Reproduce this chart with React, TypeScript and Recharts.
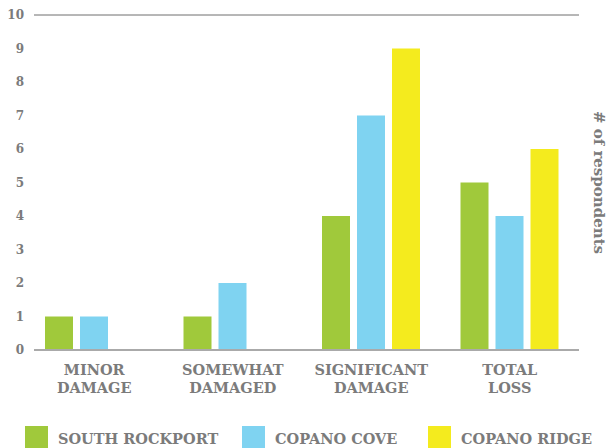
import { Bar, BarChart, CartesianGrid, XAxis, YAxis } from "recharts";

const categories = ["MINOR DAMAGE", "SOMEWHAT DAMAGED", "SIGNIFICANT DAMAGE", "TOTAL LOSS"];
const southRockport = [1, 1, 4, 5];
const copanoCove = [1, 2, 7, 4];
const copanoRidge = [0, 0, 9, 6];
const yTicks = [0, 1, 2, 3, 4, 5, 6, 7, 8, 9, 10];

const SERIES = [
  { key: "southRockport", name: "SOUTH ROCKPORT", color: "#a0c93b", width: 217 },
  { key: "copanoCove", name: "COPANO COVE", color: "#7fd3f1", width: 186 },
  { key: "copanoRidge", name: "COPANO RIDGE", color: "#f4eb1e", width: 160 },
];

const data = categories.map((name, i) => ({
  name,
  southRockport: southRockport[i],
  copanoCove: copanoCove[i],
  copanoRidge: copanoRidge[i],
}));

const FONT = "'DejaVu Serif', serif";
const GREY = "#7b7b7b";

// two-line category label, split after the first word
function CategoryTick({ x, y, payload }: any) {
  const [first, ...rest] = String(payload.value).split(" ");
  return (
    <text
      x={x}
      y={y}
      textAnchor="middle"
      fill={GREY}
      fontFamily={FONT}
      fontWeight="bold"
      fontSize={14.5}
    >
      <tspan x={x} dy={17}>{first}</tspan>
      <tspan x={x} dy={18}>{rest.join(" ")}</tspan>
    </text>
  );
}

export default function App() {
  return (
    <div style={{ position: "absolute", left: 0, top: 0, width: 607, height: 448, overflow: "hidden" }}>
      <BarChart
        width={607}
        height={448}
        data={data}
        margin={{ top: 15, right: 0, bottom: 0, left: 0 }}
        barCategoryGap={20}
        barGap={7}
      >
        <CartesianGrid horizontal vertical={false} stroke="#6f6f6f" strokeWidth={1} />
        <XAxis
          dataKey="name"
          height={98}
          padding={{ left: -9, right: 0 }}
          tickLine={false}
          axisLine={{ stroke: "#aaa", strokeWidth: 2 }}
          tick={<CategoryTick />}
          interval={0}
        />
        <YAxis
          yAxisId="left"
          domain={[0, 10]}
          ticks={yTicks}
          width={34}
          axisLine={false}
          tickLine={false}
          tickSize={0}
          tickMargin={10}
          tick={{ fill: GREY, fontSize: 12, fontWeight: "bold", fontFamily: FONT }}
        />
        <YAxis
          yAxisId="right"
          orientation="right"
          domain={[0, 10]}
          width={28}
          axisLine={false}
          tickLine={false}
          tick={false}
          label={{
            value: "# of respondents",
            angle: 90,
            position: "center",
            dx: 6,
            fill: GREY,
            fontSize: 15,
            fontWeight: "bold",
            fontFamily: FONT,
          }}
        />
        {SERIES.map((s) => (
          <Bar
            key={s.key}
            yAxisId="left"
            dataKey={s.key}
            name={s.name}
            fill={s.color}
            isAnimationActive={false}
          />
        ))}
      </BarChart>
      <div
        style={{
          position: "absolute",
          left: 25,
          top: 426,
          display: "flex",
          alignItems: "flex-start",
          fontFamily: FONT,
          fontWeight: "bold",
          fontSize: 14.5,
          color: GREY,
        }}
      >
        {SERIES.map((s) => (
          <div key={s.key} style={{ display: "flex", alignItems: "flex-start", width: s.width, flexShrink: 0 }}>
            <div style={{ width: 23, height: 23, background: s.color, marginRight: 10, flexShrink: 0 }} />
            <span style={{ lineHeight: "23px", marginTop: 1, whiteSpace: "nowrap" }}>{s.name}</span>
          </div>
        ))}
      </div>
    </div>
  );
}
